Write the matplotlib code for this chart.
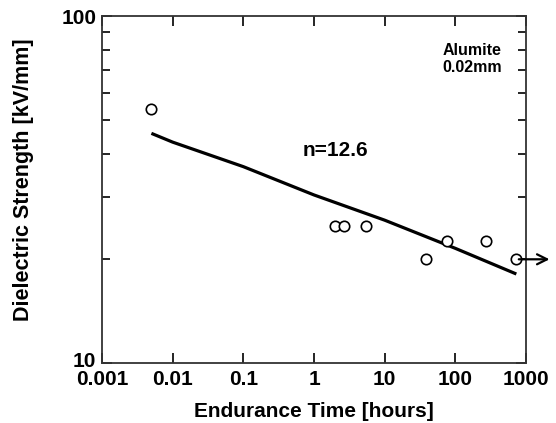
import matplotlib
matplotlib.use("Agg")
import matplotlib.pyplot as plt
from matplotlib.ticker import LogLocator, NullFormatter, FixedLocator, FixedFormatter
from matplotlib.transforms import ScaledTranslation

plt.rcParams['font.family'] = ['Liberation Sans', 'DejaVu Sans']
plt.rcParams['font.weight'] = 'bold'

# Data
time_h = [0.005, 1.98, 2.62, 5.4, 38.7, 75.5, 269, 732]
strength = [54.0, 24.8, 24.8, 24.8, 19.9, 22.4, 22.4, 19.9]

fit_t = [0.005, 0.01, 0.1, 1, 10, 100, 730]
fit_e = [45.9, 43.3, 36.8, 30.5, 25.8, 21.4, 18.05]

xticks = [0.001, 0.01, 0.1, 1, 10, 100, 1000]
xticklabels = ["0.001", "0.01", "0.1", "1", "10", "100", "1000"]
yticks = [10, 100]
yticklabels = ["10", "100"]

W, H = 556, 423
fig = plt.figure(figsize=(W / 100, H / 100), dpi=100)
ax = fig.add_axes([102 / W, 60 / H, 424 / W, 347 / H])
ax.set_xscale('log')
ax.set_yscale('log')
ax.set_xlim(0.001, 1000)
ax.set_ylim(10, 100)

ax.plot(fit_t, fit_e, color='black', lw=2.3, solid_capstyle='butt')
ax.plot(time_h, strength, linestyle='none', marker='o', ms=7.5,
        mfc='white', mec='black', mew=1.2, zorder=3)

ax.annotate('', xy=(2150, strength[-1]), xytext=(time_h[-1] * 1.08, strength[-1]),
            xycoords='data', textcoords='data', annotation_clip=False,
            arrowprops=dict(arrowstyle='->', color='black', lw=1.6,
                            mutation_scale=18, shrinkA=0, shrinkB=0))

ax.xaxis.set_major_locator(FixedLocator(xticks))
ax.xaxis.set_major_formatter(FixedFormatter(xticklabels))
ax.xaxis.set_minor_locator(FixedLocator([]))
ax.yaxis.set_major_locator(FixedLocator(yticks))
ax.yaxis.set_major_formatter(FixedFormatter(yticklabels))
ax.yaxis.set_minor_locator(LogLocator(base=10, subs=range(2, 10)))
ax.yaxis.set_minor_formatter(NullFormatter())

ax.tick_params(which='both', direction='in', top=True, right=True, width=1.2)
ax.tick_params(which='major', length=7, labelsize=15)
ax.tick_params(which='minor', length=6)
ax.tick_params(axis='x', pad=5)
ax.tick_params(axis='y', pad=4)
for lab in ax.get_xticklabels() + ax.get_yticklabels():
    lab.set_fontweight('bold')
low = ax.yaxis.get_major_ticks()[0].label1
low.set_transform(low.get_transform() + ScaledTranslation(0, 4 / 100, fig.dpi_scale_trans))
for s in ax.spines.values():
    s.set_linewidth(1.3)
    s.set_color('#333333')

ax.set_xlabel('Endurance Time [hours]', fontsize=15, fontweight='bold')
ax.xaxis.set_label_coords(0.5, -39 / 347)
ax.set_ylabel('Dielectric Strength [kV/mm]', fontsize=15.5, fontweight='bold')
ax.yaxis.set_label_coords(-68 / 424, (363 - 180) / 347)

ax.text((303 - 102) / 424, (363 - 151) / 347, 'n=12.6', transform=ax.transAxes,
        fontsize=15, fontweight='bold', ha='left', va='center')
ax.text((472 - 102) / 424, (363 - 59) / 347, 'Alumite\n0.02mm', transform=ax.transAxes,
        fontsize=11.5, fontweight='bold', ha='center', va='center', linespacing=1.15)

fig.savefig('out.png', dpi=100)
